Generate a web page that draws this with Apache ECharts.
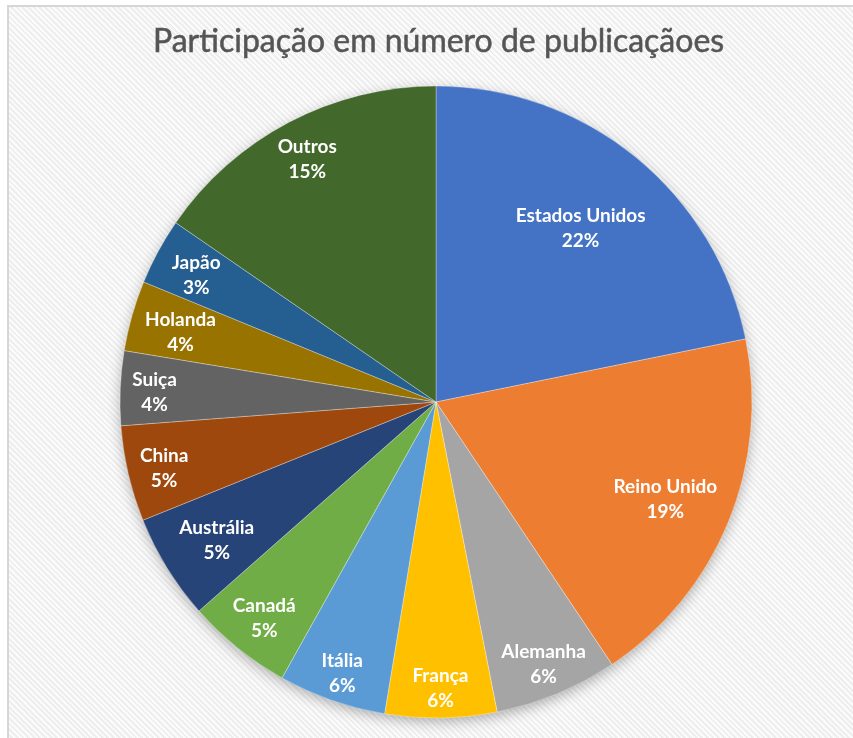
<!DOCTYPE html>
<html>
<head>
<meta charset="utf-8">
<script src="https://cdn.jsdelivr.net/npm/echarts@6/dist/echarts.min.js"></script>
<style>
  html, body { margin: 0; padding: 0; background: #ffffff; overflow: hidden; }
  #frame {
    position: absolute; left: 7px; top: 5px; width: 900px; height: 800px;
    border-left: 2px solid #d6d6d6; border-top: 2px solid #d6d6d6;
    background-color: #f8f8f8;
    background-image: repeating-linear-gradient(45deg, #fbfbfb 0px, #fbfbfb 2px, #eeeeee 2px, #eeeeee 4px);
  }
  #chart { position: absolute; left: 0; top: 0; width: 853px; height: 738px; }
</style>
</head>
<body>
<div id="frame"></div>
<div id="chart"></div>
<script>
// ---- data ----
const countries = ['Estados Unidos', 'Reino Unido', 'Alemanha', 'França', 'Itália', 'Canadá',
                   'Austrália', 'China', 'Suiça', 'Holanda', 'Japão', 'Outros'];
const shares = [21.8, 18.8, 6.3, 5.7, 5.5, 5.4, 5.4, 4.9, 3.8, 3.6, 3.4, 15.4];
const titleText = 'Participação em número de publicaçãoes';

// ---- styles ----
const sliceColors = ['#4472C4', '#ED7D31', '#A5A5A5', '#FFC000', '#5B9BD5', '#70AD47',
                     '#264478', '#9E480E', '#636363', '#997300', '#255E91', '#43682B'];
const labelRadius = [0.71, 0.77, 0.873, 0.88, 0.883, 0.85, 0.80, 0.867, 0.875, 0.825, 0.847, 0.86];
const CX = 436, CY = 402, R = 316;

const chart = echarts.init(document.getElementById('chart'), null, { renderer: 'canvas' });
chart.setOption({
  backgroundColor: 'transparent',
  animation: false,
  title: {
    text: titleText,
    left: 148,
    top: 21,
    textStyle: { fontFamily: 'Lato', fontSize: 32, fontWeight: 'normal', color: '#555555',
                 textBorderColor: '#555555', textBorderWidth: 0.5 }
  },
  graphic: [{
    type: 'circle', silent: true, z: -1,
    shape: { cx: CX, cy: CY, r: R - 1 },
    style: { fill: '#ffffff', shadowBlur: 14, shadowColor: 'rgba(0,0,0,0.32)', shadowOffsetY: 4 }
  }],
  series: [{
    type: 'pie',
    center: [CX, CY],
    radius: [0, R],
    startAngle: 90,
    clockwise: true,
    avoidLabelOverlap: false,
    data: countries.map((n, i) => ({ name: n, value: shares[i], itemStyle: { color: sliceColors[i] } })),
    itemStyle: { borderColor: 'rgba(255,255,255,0.5)', borderWidth: 0.6 },
    label: {
      show: true,
      position: 'inside',
      formatter: p => p.name + '\n' + Math.round(p.value) + '%',
      color: '#ffffff',
      fontFamily: 'Lato',
      fontWeight: 'bold',
      fontSize: 19,
      lineHeight: 25,
      align: 'center'
    },
    labelLine: { show: false },
    labelLayout: function (params) {
      const k = labelRadius[params.dataIndex];
      const r = params.labelRect;
      const lx = r.x + r.width / 2, ly = r.y + r.height / 2;
      const f = 2 * k - 1;
      return { dx: (lx - CX) * f, dy: (ly - CY) * f + 3 };
    },
    emphasis: { disabled: true }
  }]
});
</script>
</body>
</html>
